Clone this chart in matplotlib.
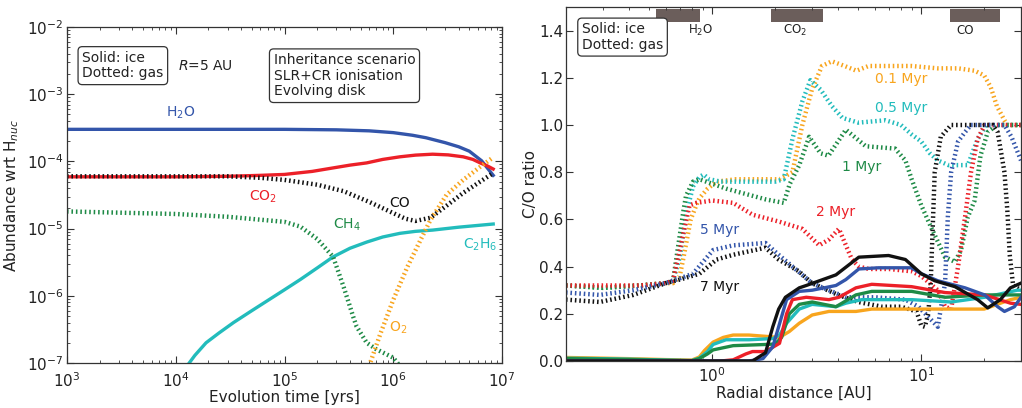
import numpy as np
import matplotlib
matplotlib.use('Agg')
import matplotlib.pyplot as plt
from matplotlib.ticker import LogLocator, NullFormatter

# ---- left panel: abundances at R=5 AU ----
t_h2o = [1e3, 1e4, 1e5, 3e5, 6e5, 1e6, 1.5e6, 2e6, 3e6, 4e6, 5e6, 6.5e6, 8.3e6]
ab_h2o = [3e-4, 3e-4, 3e-4, 2.95e-4, 2.85e-4, 2.68e-4, 2.45e-4, 2.25e-4, 1.9e-4, 1.65e-4, 1.42e-4, 1.02e-4, 6.2e-5]

t_co2 = [1e3, 1e4, 3e4, 6e4, 1e5, 1.8e5, 2.8e5, 4e5, 5.7e5, 8e5, 1.15e6, 1.6e6, 2.3e6, 3.2e6, 4.4e6, 5.4e6, 6.3e6, 7.3e6, 8.3e6]
ab_co2 = [5.9e-5, 5.9e-5, 6.0e-5, 6.2e-5, 6.4e-5, 7.1e-5, 8e-5, 8.8e-5, 9.5e-5, 1.07e-4, 1.17e-4, 1.24e-4, 1.28e-4, 1.25e-4, 1.17e-4, 1.07e-4, 9.5e-5, 8.6e-5, 7.7e-5]

t_co = [1e3, 3e4, 6e4, 1e5, 2e5, 3.5e5, 6e5, 1e6, 1.3e6, 1.6e6, 2.2e6, 3.1e6, 4.4e6, 6.3e6, 8.3e6]
ab_co = [6e-5, 6e-5, 5.7e-5, 5.3e-5, 4.5e-5, 3.6e-5, 2.5e-5, 1.7e-5, 1.4e-5, 1.3e-5, 1.45e-5, 2.2e-5, 3.4e-5, 5e-5, 6.7e-5]

t_ch4 = [1e3, 1e4, 3e4, 1e5, 1.4e5, 2e5, 2.8e5, 3.5e5, 4.3e5, 4.6e5, 5.7e5, 7e5, 1e6, 1.15e6]
ab_ch4 = [1.8e-5, 1.65e-5, 1.5e-5, 1.26e-5, 1.07e-5, 7e-6, 3.8e-6, 1.35e-6, 4.8e-7, 3.5e-7, 2e-7, 1.6e-7, 1.2e-7, 9e-8]

t_c2h6 = [1.2e4, 1.5e4, 1.9e4, 2.5e4, 3.4e4, 5e4, 7e4, 1e5, 1.4e5, 2e5, 2.8e5, 4e5, 5.7e5, 8e5, 1.15e6, 1.6e6, 2.3e6, 4e6, 8.3e6]
ab_c2h6 = [8e-8, 1.3e-7, 2e-7, 2.8e-7, 4e-7, 6e-7, 8.5e-7, 1.23e-6, 1.75e-6, 2.6e-6, 3.8e-6, 5.1e-6, 6.3e-6, 7.5e-6, 8.5e-6, 9.1e-6, 9.5e-6, 1.05e-5, 1.17e-5]

t_o2 = [6e5, 7.6e5, 1e6, 1.35e6, 1.8e6, 2.2e6, 3.1e6, 4.4e6, 6.3e6, 8.3e6]
ab_o2 = [9e-8, 2.7e-7, 8.7e-7, 2.7e-6, 7e-6, 1.35e-5, 3.2e-5, 5.3e-5, 8.3e-5, 1.15e-4]

# ---- right panel: C/O ratio vs radius ----
r_g01 = [0.2, 0.3, 0.45, 0.6, 0.65, 0.7, 0.73, 0.79, 0.84, 0.87, 0.95, 1.05, 1.3, 1.8, 2.1, 2.42, 2.7, 3.0, 3.35, 3.74, 4.3, 4.9, 5.6, 7, 9, 12, 15, 18, 20, 21.5, 23, 25, 26, 30]
co_g01 = [0.32, 0.31, 0.32, 0.33, 0.33, 0.36, 0.44, 0.6, 0.66, 0.69, 0.73, 0.76, 0.77, 0.77, 0.77, 0.80, 1.0, 1.15, 1.25, 1.27, 1.25, 1.23, 1.25, 1.25, 1.25, 1.24, 1.24, 1.23, 1.21, 1.16, 1.08, 1.02, 1.0, 1.0]

r_g05 = [0.2, 0.3, 0.45, 0.6, 0.65, 0.7, 0.75, 0.81, 0.87, 0.91, 0.97, 1.1, 1.5, 2.0, 2.2, 2.42, 2.7, 2.95, 3.3, 3.74, 4.2, 5, 6.75, 8, 9, 10, 11, 12, 13.5, 16.7, 18.6, 20.5, 25, 30]
co_g05 = [0.32, 0.31, 0.32, 0.33, 0.34, 0.44, 0.62, 0.74, 0.78, 0.79, 0.77, 0.76, 0.76, 0.76, 0.77, 0.94, 1.10, 1.19, 1.15, 1.08, 1.03, 1.01, 1.02, 1.0, 0.96, 0.93, 0.88, 0.85, 0.83, 0.83, 0.94, 1.0, 1.0, 1.0]

r_g1 = [0.2, 0.3, 0.45, 0.6, 0.65, 0.73, 0.75, 0.81, 0.87, 1.17, 1.8, 2.2, 2.35, 2.61, 2.91, 3.3, 3.6, 4.36, 5.43, 7.5, 8.4, 9.0, 10.0, 11.1, 13.0, 14.5, 15.5, 16.7, 18.0, 19.2, 20.8, 23, 30]
co_g1 = [0.32, 0.31, 0.32, 0.33, 0.34, 0.64, 0.70, 0.76, 0.77, 0.73, 0.685, 0.67, 0.75, 0.83, 0.95, 0.88, 0.87, 0.98, 0.91, 0.90, 0.85, 0.77, 0.66, 0.57, 0.44, 0.42, 0.47, 0.61, 0.68, 0.87, 0.97, 1.0, 1.0]

r_g2 = [0.2, 0.3, 0.45, 0.6, 0.65, 0.70, 0.78, 0.84, 1.0, 1.26, 1.56, 2.1, 2.7, 3.25, 3.62, 4.04, 4.66, 5.03, 5.6, 7, 9, 10, 12, 13.0, 13.9, 15.0, 16.2, 17.3, 18.6, 20.1, 30]
co_g2 = [0.32, 0.32, 0.32, 0.33, 0.34, 0.47, 0.66, 0.67, 0.68, 0.67, 0.62, 0.59, 0.56, 0.49, 0.515, 0.56, 0.43, 0.40, 0.39, 0.39, 0.38, 0.36, 0.30, 0.23, 0.22, 0.40, 0.61, 0.80, 0.94, 1.0, 1.0]

r_g5 = [0.2, 0.29, 0.42, 0.6, 0.7, 0.81, 1.01, 1.26, 1.8, 2.08, 2.5, 3.0, 4.36, 6, 8.4, 9.7, 11.0, 12.0, 13.0, 13.4, 13.9, 15, 16.2, 17.3, 25, 27, 30]
co_g5 = [0.29, 0.28, 0.30, 0.33, 0.35, 0.37, 0.47, 0.49, 0.50, 0.45, 0.39, 0.33, 0.27, 0.27, 0.26, 0.23, 0.18, 0.145, 0.33, 0.61, 0.80, 0.93, 0.97, 1.0, 1.0, 0.95, 0.85]

r_g7 = [0.2, 0.29, 0.42, 0.6, 0.7, 0.87, 1.05, 1.26, 1.8, 2.08, 2.6, 3.0, 4.0, 5.0, 6.5, 8.0, 9.5, 10.0, 10.4, 10.8, 11.1, 11.6, 12.4, 13.9, 22, 23.2, 25.0, 25.8, 26.5, 27.5, 30]
co_g7 = [0.26, 0.25, 0.28, 0.33, 0.345, 0.37, 0.43, 0.45, 0.48, 0.43, 0.38, 0.33, 0.28, 0.25, 0.23, 0.23, 0.21, 0.15, 0.145, 0.2, 0.33, 0.80, 0.95, 1.0, 1.0, 0.97, 0.80, 0.64, 0.45, 0.32, 0.30]

r_i01 = [0.2, 0.4, 0.6, 0.8, 0.868, 0.92, 1.01, 1.13, 1.26, 1.5, 2.1, 2.34, 2.61, 3.01, 3.62, 4.87, 5.8, 10, 20, 21.5, 26.7, 30]
co_i01 = [0.015, 0.01, 0.006, 0.004, 0.017, 0.045, 0.08, 0.10, 0.11, 0.11, 0.10, 0.125, 0.16, 0.195, 0.21, 0.21, 0.22, 0.22, 0.22, 0.23, 0.26, 0.27]

r_i05 = [0.2, 0.4, 0.6, 0.8, 0.868, 0.95, 1.01, 1.165, 1.5, 1.95, 2.1, 2.27, 2.61, 3.01, 3.91, 4.36, 5.2, 9, 13.9, 20.1, 28.8, 30]
co_i05 = [0.012, 0.008, 0.004, 0.002, 0.012, 0.04, 0.07, 0.09, 0.09, 0.095, 0.11, 0.16, 0.22, 0.24, 0.23, 0.245, 0.26, 0.26, 0.25, 0.27, 0.30, 0.30]

r_i1 = [0.2, 0.4, 0.6, 0.8, 0.868, 0.95, 1.01, 1.26, 1.8, 2.0, 2.15, 2.34, 2.61, 3.01, 3.91, 4.87, 5.8, 9, 13, 20.1, 30]
co_i1 = [0.01, 0.006, 0.003, 0.001, 0.01, 0.03, 0.047, 0.065, 0.07, 0.072, 0.10, 0.20, 0.24, 0.25, 0.23, 0.28, 0.295, 0.295, 0.27, 0.28, 0.28]

r_i2 = [0.2, 1.1, 1.26, 1.45, 1.56, 1.8, 2.1, 2.27, 2.42, 2.82, 3.62, 4.04, 4.87, 5.8, 9, 13, 20.1, 26.7, 30]
co_i2 = [0.0, 0.0, 0.005, 0.03, 0.04, 0.04, 0.075, 0.20, 0.26, 0.27, 0.26, 0.27, 0.31, 0.325, 0.315, 0.29, 0.28, 0.245, 0.24]

r_i5 = [0.2, 1.5, 1.75, 1.95, 2.08, 2.27, 2.61, 3.01, 3.91, 4.36, 5.03, 6.25, 8.97, 10.0, 12.0, 16.2, 20.1, 23.2, 25.0, 27.9, 30]
co_i5 = [0.0, 0.0, 0.01, 0.06, 0.145, 0.26, 0.295, 0.30, 0.32, 0.345, 0.39, 0.395, 0.395, 0.37, 0.34, 0.31, 0.28, 0.23, 0.21, 0.23, 0.27]

r_i7 = [0.2, 1.4, 1.56, 1.8, 1.95, 2.08, 2.24, 2.61, 2.82, 3.91, 5.03, 6.98, 8.4, 10.0, 11.6, 14.5, 18.6, 20.8, 23.9, 26.7, 30]
co_i7 = [0.0, 0.0, 0.0, 0.035, 0.145, 0.22, 0.27, 0.31, 0.32, 0.365, 0.44, 0.447, 0.43, 0.37, 0.34, 0.315, 0.26, 0.225, 0.26, 0.31, 0.33]

ages = ['0.1 Myr', '0.5 Myr', '1 Myr', '2 Myr', '5 Myr', '7 Myr']
snowlines = {'H$_2$O': (0.537, 0.877), 'CO$_2$': (1.92, 3.40), 'CO': (13.7, 23.9)}

# colours
c_orange = '#f8a51e'
c_cyan = '#22bcbc'
c_green = '#1e8a46'
c_red = '#ec2028'
c_blue = '#3355aa'
c_black = '#111111'
txt = '#222222'

gas = dict(linestyle=(0, (0.35, 0.65)), lw=3.2)
ice = dict(linestyle='-', lw=2.4)

plt.rcParams['font.family'] = 'DejaVu Sans'
plt.rcParams['axes.edgecolor'] = '#333333'
plt.rcParams['axes.linewidth'] = 0.9

fig = plt.figure(figsize=(10.22, 4.08), dpi=100)
ax = fig.add_axes([67/1022, 45/408, 435/1022, 336/408])
ax2 = fig.add_axes([566/1022, 47/408, 455/1022, 354/408])

# ---- left ----
ax.plot(t_h2o, ab_h2o, color=c_blue, **ice)
ax.plot(t_co2, ab_co2, color=c_red, **ice)
ax.plot(t_c2h6, ab_c2h6, color=c_cyan, **ice)
ax.plot(t_ch4, ab_ch4, color=c_green, **gas)
ax.plot(t_o2, ab_o2, color=c_orange, **gas)
ax.plot(t_co, ab_co, color=c_black, **gas)

ax.set_xscale('log')
ax.set_yscale('log')
ax.set_xlim(1e3, 1e7)
ax.set_ylim(1e-7, 1e-2)
ax.set_xlabel('Evolution time [yrs]', fontsize=11, color=txt, labelpad=0)
ax.set_ylabel('Abundance wrt H$_{nuc}$', fontsize=11, color=txt, labelpad=4)

ax.text(1.1e4, 5.2e-4, 'H$_2$O', color=c_blue, fontsize=10, ha='center', va='center')
ax.text(6.3e4, 2.95e-5, 'CO$_2$', color=c_red, fontsize=10, ha='center', va='center')
ax.text(1.15e6, 2.4e-5, 'CO', color=c_black, fontsize=10, ha='center', va='center')
ax.text(3.76e5, 1.12e-5, 'CH$_4$', color=c_green, fontsize=10, ha='center', va='center')
ax.text(6.3e6, 5.7e-6, 'C$_2$H$_6$', color=c_cyan, fontsize=10, ha='center', va='center')
ax.text(1.1e6, 3.3e-7, 'O$_2$', color=c_orange, fontsize=10, ha='center', va='center')

box = dict(boxstyle='round,pad=0.3', fc='white', ec='#333333', lw=0.9)
ax.text(0.035, 0.885, 'Solid: ice\nDotted: gas', transform=ax.transAxes, fontsize=10,
        color=txt, va='center', ha='left', bbox=box, linespacing=1.15)
ax.text(0.255, 0.885, '$R$=5 AU', transform=ax.transAxes, fontsize=10,
        color=txt, va='center', ha='left')
ax.text(0.475, 0.855, 'Inheritance scenario\nSLR+CR ionisation\nEvolving disk',
        transform=ax.transAxes, fontsize=10, color=txt, va='center', ha='left',
        bbox=box, linespacing=1.15)

ax.xaxis.set_major_locator(LogLocator(base=10, numticks=10))
ax.xaxis.set_minor_locator(LogLocator(base=10, subs=np.arange(2, 10), numticks=50))
ax.yaxis.set_major_locator(LogLocator(base=10, numticks=10))
ax.yaxis.set_minor_locator(LogLocator(base=10, subs=np.arange(2, 10), numticks=50))
ax.xaxis.set_minor_formatter(NullFormatter())
ax.yaxis.set_minor_formatter(NullFormatter())

# ---- right ----
gas_sets = [(r_g01, co_g01, c_orange), (r_g05, co_g05, c_cyan), (r_g1, co_g1, c_green),
            (r_g2, co_g2, c_red), (r_g5, co_g5, c_blue), (r_g7, co_g7, c_black)]
ice_sets = [(r_i01, co_i01, c_orange), (r_i05, co_i05, c_cyan), (r_i1, co_i1, c_green),
            (r_i2, co_i2, c_red), (r_i5, co_i5, c_blue), (r_i7, co_i7, c_black)]
for r, v, c in gas_sets:
    ax2.plot(r, v, color=c, **gas)
for r, v, c in ice_sets:
    ax2.plot(r, v, color=c, **ice)

ax2.set_xscale('log')
ax2.set_xlim(0.2, 30)
ax2.set_ylim(0, 1.5)
ax2.set_yticks(np.arange(0, 1.41, 0.2))
ax2.set_yticklabels(['%.1f' % v for v in np.arange(0, 1.41, 0.2)])
ax2.xaxis.set_major_locator(LogLocator(base=10, numticks=10))
ax2.xaxis.set_minor_locator(LogLocator(base=10, subs=np.arange(2, 10), numticks=50))
ax2.xaxis.set_minor_formatter(NullFormatter())
ax2.set_xlabel('Radial distance [AU]', fontsize=11, color=txt, labelpad=1)
ax2.set_ylabel('C/O ratio', fontsize=11, color=txt, labelpad=1)

for name, (x0, x1) in snowlines.items():
    ax2.axvspan(x0, x1, ymin=0.957, ymax=0.994, color='#6b5e5b', lw=0)
lab_x = [0.877, 2.5, 16.2]
for name, xl in zip(snowlines.keys(), lab_x):
    ax2.text(xl, 1.40, name, fontsize=8.5, color=txt, ha='center', va='center')

age_pos = [(8.0, 1.196), (8.0, 1.07), (5.2, 0.82), (3.9, 0.63), (1.09, 0.557), (1.09, 0.315)]
age_col = [c_orange, c_cyan, c_green, c_red, c_blue, c_black]
for lab, (xp, yp), c in zip(ages, age_pos, age_col):
    ax2.text(xp, yp, lab, color=c, fontsize=10, ha='center', va='center')

ax2.text(0.035, 0.915, 'Solid: ice\nDotted: gas', transform=ax2.transAxes, fontsize=10,
         color=txt, va='center', ha='left', bbox=box, linespacing=1.15)

for a in (ax, ax2):
    a.tick_params(which='both', direction='in', top=True, right=True, colors='#333333',
                  labelcolor=txt, labelsize=11)
    a.tick_params(which='major', length=5, width=0.8)
    a.tick_params(which='minor', length=2.5, width=0.6)
ax.tick_params(axis='x', which='major', pad=6)
ax.tick_params(axis='y', which='major', pad=2.5)
ax2.tick_params(axis='y', which='major', pad=2)

fig.savefig('out.png', dpi=100)
